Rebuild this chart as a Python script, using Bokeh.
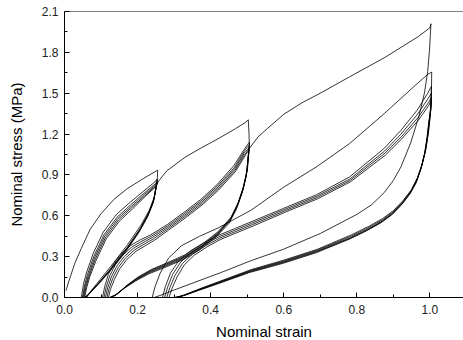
from bokeh.plotting import figure
from bokeh.models import FixedTicker, PrintfTickFormatter, Span, Range1d
from bokeh.embed import file_html
from bokeh.resources import INLINE

# ---------------- data (strain, stress MPa) ----------------
x_ticks = [0.0, 0.2, 0.4, 0.6, 0.8, 1.0]
x_minor = [0.1, 0.3, 0.5, 0.7, 0.9]
y_ticks = [0.0, 0.3, 0.6, 0.9, 1.2, 1.5, 1.8, 2.1]
y_minor = [0.15, 0.45, 0.75, 1.05, 1.35, 1.65, 1.95]

# Level 1 (max strain 0.25)
L1_primary_strain = [0.004, 0.012, 0.028, 0.046, 0.070, 0.100, 0.135, 0.172, 0.217, 0.245, 0.255]
L1_primary_stress = [0.05, 0.12, 0.25, 0.36, 0.50, 0.615, 0.72, 0.80, 0.875, 0.92, 0.935]

L1_reload_strain = [
    [0.046, 0.052, 0.060, 0.078, 0.106, 0.142, 0.180, 0.216, 0.248, 0.254],
    [0.049, 0.055, 0.063, 0.080, 0.108, 0.144, 0.181, 0.217, 0.249, 0.254],
    [0.051, 0.057, 0.065, 0.082, 0.110, 0.146, 0.183, 0.218, 0.249, 0.254],
    [0.053, 0.059, 0.067, 0.084, 0.112, 0.148, 0.184, 0.219, 0.250, 0.254],
    [0.055, 0.061, 0.069, 0.086, 0.114, 0.150, 0.186, 0.220, 0.250, 0.254],
]
L1_reload_stress = [
    [0.00, 0.10, 0.18, 0.32, 0.48, 0.61, 0.70, 0.78, 0.85, 0.87],
    [0.00, 0.09, 0.17, 0.30, 0.46, 0.59, 0.68, 0.765, 0.835, 0.86],
    [0.00, 0.085, 0.16, 0.29, 0.45, 0.58, 0.67, 0.755, 0.825, 0.85],
    [0.00, 0.08, 0.155, 0.28, 0.44, 0.57, 0.66, 0.745, 0.82, 0.845],
    [0.00, 0.075, 0.15, 0.27, 0.43, 0.56, 0.65, 0.74, 0.815, 0.84],
]
L1_unload_strain = [
    [0.255, 0.254, 0.246, 0.232, 0.209, 0.173, 0.136, 0.100, 0.070, 0.060],
    [0.254, 0.245, 0.231, 0.208, 0.172, 0.135, 0.099, 0.069, 0.059],
    [0.254, 0.244, 0.229, 0.206, 0.170, 0.133, 0.097, 0.067, 0.057],
    [0.254, 0.243, 0.228, 0.204, 0.168, 0.131, 0.095, 0.065, 0.055],
    [0.254, 0.242, 0.227, 0.203, 0.167, 0.130, 0.094, 0.064, 0.054],
]
L1_unload_stress = [
    [0.935, 0.87, 0.74, 0.64, 0.53, 0.39, 0.26, 0.14, 0.04, 0.0],
    [0.87, 0.725, 0.625, 0.51, 0.37, 0.24, 0.125, 0.03, 0.0],
    [0.86, 0.71, 0.61, 0.495, 0.355, 0.228, 0.115, 0.025, 0.0],
    [0.85, 0.70, 0.60, 0.485, 0.345, 0.22, 0.108, 0.022, 0.0],
    [0.845, 0.69, 0.59, 0.475, 0.335, 0.212, 0.10, 0.02, 0.0],
]

# Level 2 (max strain 0.5)
L2_primary_strain = [0.254, 0.262, 0.280, 0.330, 0.375, 0.420, 0.468, 0.495, 0.503]
L2_primary_stress = [0.84, 0.87, 0.93, 1.03, 1.10, 1.165, 1.24, 1.285, 1.305]

L2_reload_strain = [
    [0.104, 0.110, 0.120, 0.135, 0.155, 0.180, 0.205, 0.236, 0.281, 0.327, 0.373, 0.418, 0.464, 0.490, 0.503, 0.506],
    [0.108, 0.114, 0.124, 0.139, 0.159, 0.184, 0.209, 0.238, 0.282, 0.328, 0.374, 0.419, 0.465, 0.491, 0.504, 0.506],
    [0.112, 0.118, 0.128, 0.143, 0.163, 0.188, 0.213, 0.240, 0.283, 0.329, 0.375, 0.420, 0.466, 0.492, 0.504, 0.506],
    [0.116, 0.122, 0.132, 0.147, 0.167, 0.192, 0.217, 0.243, 0.284, 0.330, 0.376, 0.421, 0.467, 0.493, 0.504, 0.505],
    [0.120, 0.126, 0.136, 0.151, 0.171, 0.196, 0.221, 0.246, 0.285, 0.331, 0.377, 0.422, 0.468, 0.494, 0.500],
]
L2_reload_stress = [
    [0.0, 0.08, 0.17, 0.25, 0.32, 0.38, 0.42, 0.46, 0.535, 0.625, 0.72, 0.83, 0.97, 1.08, 1.13, 1.14],
    [0.0, 0.075, 0.16, 0.24, 0.31, 0.37, 0.41, 0.45, 0.525, 0.615, 0.71, 0.82, 0.955, 1.07, 1.115, 1.12],
    [0.0, 0.07, 0.15, 0.23, 0.30, 0.36, 0.40, 0.44, 0.515, 0.605, 0.70, 0.81, 0.945, 1.06, 1.095, 1.10],
    [0.0, 0.065, 0.14, 0.22, 0.29, 0.35, 0.39, 0.43, 0.505, 0.595, 0.69, 0.80, 0.935, 1.05, 1.075, 1.08],
    [0.0, 0.06, 0.13, 0.21, 0.28, 0.34, 0.38, 0.42, 0.495, 0.585, 0.68, 0.79, 0.925, 1.04, 1.07],
]
L2_unload_strain = [
    [0.503, 0.505, 0.506, 0.501, 0.491, 0.476, 0.456, 0.421, 0.376, 0.331, 0.281, 0.237, 0.201, 0.171, 0.146, 0.130],
    [0.506, 0.500, 0.490, 0.475, 0.455, 0.420, 0.375, 0.330, 0.280, 0.236, 0.200, 0.170, 0.145, 0.128],
    [0.506, 0.499, 0.488, 0.473, 0.453, 0.418, 0.373, 0.328, 0.278, 0.234, 0.198, 0.168, 0.143, 0.126],
    [0.505, 0.498, 0.487, 0.471, 0.451, 0.416, 0.371, 0.326, 0.276, 0.232, 0.196, 0.166, 0.141, 0.124],
    [0.505, 0.497, 0.486, 0.470, 0.450, 0.415, 0.370, 0.325, 0.275, 0.231, 0.195, 0.165, 0.140, 0.123],
]
L2_unload_stress = [
    [1.305, 1.20, 1.11, 0.95, 0.82, 0.70, 0.59, 0.485, 0.39, 0.315, 0.255, 0.205, 0.15, 0.09, 0.03, 0.0],
    [1.14, 0.94, 0.81, 0.69, 0.58, 0.475, 0.38, 0.305, 0.248, 0.198, 0.143, 0.085, 0.027, 0.0],
    [1.12, 0.92, 0.795, 0.675, 0.568, 0.465, 0.37, 0.296, 0.239, 0.19, 0.136, 0.08, 0.024, 0.0],
    [1.10, 0.90, 0.78, 0.66, 0.556, 0.455, 0.36, 0.287, 0.23, 0.182, 0.129, 0.075, 0.021, 0.0],
    [1.08, 0.885, 0.765, 0.645, 0.544, 0.445, 0.35, 0.278, 0.221, 0.174, 0.122, 0.07, 0.018, 0.0],
]

# Level 3 (max strain 1.0)
L3_primary_strain = [0.500, 0.510, 0.530, 0.555, 0.600, 0.650, 0.700, 0.780, 0.875, 0.965, 1.000, 1.003]
L3_primary_stress = [1.07, 1.11, 1.18, 1.24, 1.345, 1.43, 1.50, 1.62, 1.76, 1.91, 1.98, 2.01]

L3_reload_strain = [
    [0.240, 0.248, 0.262, 0.285, 0.320, 0.370, 0.420, 0.510, 0.600, 0.690, 0.780, 0.875, 0.965, 0.995, 1.005],
    [0.268, 0.276, 0.290, 0.313, 0.343, 0.380, 0.420, 0.465, 0.510, 0.600, 0.690, 0.780, 0.875, 0.920, 0.965, 0.994, 1.004],
    [0.274, 0.282, 0.296, 0.318, 0.347, 0.383, 0.422, 0.467, 0.512, 0.601, 0.691, 0.781, 0.876, 0.921, 0.966, 0.995, 1.004],
    [0.280, 0.288, 0.302, 0.323, 0.351, 0.386, 0.424, 0.469, 0.514, 0.602, 0.692, 0.782, 0.877, 0.922, 0.967, 0.996, 1.004],
    [0.286, 0.294, 0.308, 0.328, 0.355, 0.389, 0.426, 0.471, 0.516, 0.603, 0.693, 0.783, 0.878, 0.923, 0.968, 0.997, 1.004],
]
L3_reload_stress = [
    [0.0, 0.08, 0.18, 0.29, 0.38, 0.45, 0.51, 0.64, 0.81, 0.96, 1.13, 1.35, 1.57, 1.64, 1.655],
    [0.0, 0.08, 0.18, 0.27, 0.34, 0.40, 0.455, 0.505, 0.555, 0.655, 0.755, 0.885, 1.095, 1.225, 1.375, 1.50, 1.55],
    [0.0, 0.075, 0.17, 0.26, 0.33, 0.39, 0.445, 0.495, 0.545, 0.645, 0.745, 0.87, 1.075, 1.20, 1.345, 1.46, 1.50],
    [0.0, 0.07, 0.16, 0.25, 0.32, 0.38, 0.435, 0.485, 0.535, 0.635, 0.735, 0.86, 1.06, 1.18, 1.32, 1.43, 1.47],
    [0.0, 0.065, 0.15, 0.24, 0.31, 0.37, 0.425, 0.475, 0.525, 0.625, 0.725, 0.85, 1.045, 1.165, 1.30, 1.41, 1.45],
]
L3_unload_strain = [
    [1.003, 0.999, 0.994, 0.985, 0.970, 0.948, 0.921, 0.900, 0.875, 0.840, 0.800, 0.700, 0.600, 0.510, 0.430, 0.360, 0.300, 0.265, 0.245],
    [1.005, 1.004, 1.001, 0.996, 0.989, 0.979, 0.966, 0.949, 0.926, 0.901, 0.871, 0.831, 0.785, 0.693, 0.601, 0.511, 0.421, 0.371, 0.331, 0.312],
    [1.004, 1.003, 1.000, 0.995, 0.988, 0.978, 0.965, 0.948, 0.925, 0.900, 0.870, 0.830, 0.784, 0.692, 0.600, 0.510, 0.420, 0.370, 0.330, 0.308],
    [1.004, 1.003, 0.999, 0.994, 0.987, 0.977, 0.964, 0.947, 0.924, 0.899, 0.869, 0.829, 0.783, 0.691, 0.599, 0.509, 0.419, 0.369, 0.329, 0.305],
    [1.004, 1.003, 0.998, 0.993, 0.986, 0.976, 0.963, 0.946, 0.923, 0.898, 0.868, 0.828, 0.782, 0.690, 0.598, 0.508, 0.418, 0.368, 0.328, 0.302],
    [1.004, 1.003, 0.997, 0.992, 0.985, 0.975, 0.962, 0.945, 0.922, 0.897, 0.867, 0.827, 0.781, 0.689, 0.597, 0.507, 0.417, 0.367, 0.327, 0.300],
]
L3_unload_stress = [
    [2.01, 1.82, 1.66, 1.50, 1.33, 1.14, 0.96, 0.86, 0.77, 0.68, 0.61, 0.47, 0.355, 0.27, 0.185, 0.115, 0.055, 0.018, 0.0],
    [1.655, 1.46, 1.33, 1.21, 1.09, 0.98, 0.88, 0.79, 0.71, 0.64, 0.58, 0.52, 0.46, 0.355, 0.275, 0.205, 0.115, 0.065, 0.022, 0.0],
    [1.55, 1.44, 1.32, 1.20, 1.08, 0.97, 0.87, 0.78, 0.70, 0.63, 0.57, 0.51, 0.45, 0.348, 0.268, 0.199, 0.11, 0.061, 0.02, 0.0],
    [1.50, 1.42, 1.31, 1.19, 1.07, 0.96, 0.86, 0.77, 0.69, 0.62, 0.56, 0.50, 0.44, 0.341, 0.262, 0.194, 0.106, 0.058, 0.018, 0.0],
    [1.47, 1.40, 1.30, 1.18, 1.06, 0.95, 0.85, 0.765, 0.685, 0.615, 0.555, 0.495, 0.435, 0.335, 0.256, 0.189, 0.102, 0.055, 0.016, 0.0],
    [1.45, 1.38, 1.29, 1.17, 1.05, 0.94, 0.84, 0.76, 0.68, 0.61, 0.55, 0.49, 0.43, 0.329, 0.25, 0.184, 0.098, 0.052, 0.014, 0.0],
]

# ---------------- figure ----------------
FONT = "Liberation Sans"

p = figure(
    frame_width=399, frame_height=286,
    x_range=Range1d(0, 1.092), y_range=Range1d(0, 2.1),
    output_backend="svg", toolbar_location=None,
    min_border_left=64, min_border_right=0, min_border_top=11, min_border_bottom=43,
    background_fill_color="white", border_fill_color="white",
)
p.outline_line_color = None
p.xgrid.grid_line_color = None
p.ygrid.grid_line_color = None

curves_x = [L1_primary_strain] + L1_reload_strain + L1_unload_strain + \
           [L2_primary_strain] + L2_reload_strain + L2_unload_strain + \
           [L3_primary_strain] + L3_reload_strain + L3_unload_strain
curves_y = [L1_primary_stress] + L1_reload_stress + L1_unload_stress + \
           [L2_primary_stress] + L2_reload_stress + L2_unload_stress + \
           [L3_primary_stress] + L3_reload_stress + L3_unload_stress
p.multi_line(xs=curves_x, ys=curves_y, line_color="black", line_width=0.8)

# top frame line
p.add_layout(Span(location=2.1, dimension="width", line_color="black", line_width=1))

for ax in (p.xaxis[0], p.yaxis[0]):
    ax.axis_line_color = "black"
    ax.axis_line_width = 1
    ax.major_tick_line_color = "black"
    ax.minor_tick_line_color = "black"
    ax.major_tick_in = 5
    ax.major_tick_out = 0
    ax.minor_tick_in = 3
    ax.minor_tick_out = 0
    ax.major_label_text_font = FONT
    ax.major_label_text_font_size = "12px"
    ax.major_label_text_color = "#222222"
    ax.axis_label_text_font = FONT
    ax.axis_label_text_font_style = "normal"
    ax.axis_label_text_color = "black"
    ax.formatter = PrintfTickFormatter(format="%.1f")

p.xaxis[0].ticker = FixedTicker(ticks=x_ticks, minor_ticks=x_minor)
p.yaxis[0].ticker = FixedTicker(ticks=y_ticks, minor_ticks=y_minor)
p.xaxis[0].axis_label = "Nominal strain"
p.yaxis[0].axis_label = "Nominal stress (MPa)"
p.xaxis[0].axis_label_text_font_size = "15px"
p.yaxis[0].axis_label_text_font_size = "15px"
p.xaxis[0].major_label_standoff = 7
p.yaxis[0].major_label_standoff = 6
p.xaxis[0].axis_label_standoff = 6
p.yaxis[0].axis_label_standoff = 14

open("out.html", "w").write(file_html(p, INLINE))
